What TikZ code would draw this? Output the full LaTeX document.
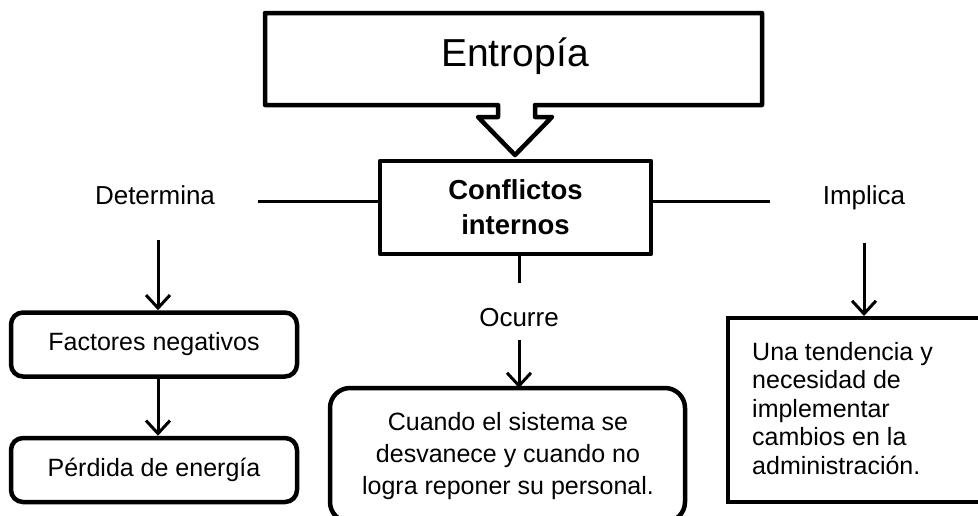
\documentclass[tikz,border=0pt]{standalone}
\usepackage{fontspec}
\setmainfont{Liberation Sans}
\usetikzlibrary{arrows.meta}
\begin{document}
\begin{tikzpicture}[x=1pt,y=-1pt,
  thickbox/.style={draw,line width=4.5pt,line join=round},
  roundbox/.style={draw,line width=4.5pt,rounded corners=12pt},
  link/.style={line width=3pt},
  arr/.style={line width=3pt,-{Straight Barb[length=13pt,width=24pt,line width=3pt]}},
  lbl/.style={font=\fontsize{26}{30}\selectfont,inner sep=0pt},
  body/.style={font=\fontsize{25}{32}\selectfont,inner sep=0pt,align=center}
]
\useasboundingbox (0,0) rectangle (978,515);
\clip (0,0) rectangle (978,515);
% Entropia callout
\draw[thickbox] (265,13) -- (762,13) -- (762,105) -- (535,105) -- (535,117) -- (552,117)
  -- (515,155) -- (478,117) -- (498,117) -- (498,105) -- (265,105) -- cycle;
\node[inner sep=0pt,font=\fontsize{39}{44}\selectfont] (entropia) at (515,56) {Entropía};
% central box
\node[thickbox,minimum width=271pt,minimum height=93pt,inner sep=0pt,align=center,
  font=\fontsize{27.5}{35}\selectfont\bfseries] (conf) at (515.5,207.5) {Conflictos\\internos};
% labels
\node[lbl] (det) at (155,195) {Determina};
\node[lbl] (imp) at (864,198) {Implica};
\node[lbl] (ocu) at (519,318) {Ocurre};
\coordinate (lend) at (258,201);
\coordinate (rend) at (770,201);
\coordinate (cend) at (519,283);
\draw[link] (conf.west |- lend) -- (lend);
\draw[link] (conf.east |- rend) -- (rend);
\draw[link] (conf.south -| cend) -- (cend);
% left column
\node[roundbox,minimum width=286pt,minimum height=64pt,inner sep=0pt,
  font=\fontsize{25}{30}\selectfont] (fac) at (154,344.5) {Factores negativos};
\node[roundbox,minimum width=286pt,minimum height=64pt,inner sep=0pt,
  font=\fontsize{25}{30}\selectfont] (per) at (154,470) {Pérdida de energía};
\coordinate (dtop) at (158,240);
\draw[arr] (dtop) -- (dtop |- fac.north);
\draw[arr] (fac.south -| dtop) -- (per.north -| dtop);
% center bottom
\draw[roundbox,rounded corners=20pt] (330,388) rectangle (685,522);
\node[body] (cua) at (508,456) {Cuando el sistema se\\desvanece y cuando no\\logra reponer su personal.};
\coordinate (otop) at (519,340);
\draw[arr] (otop) -- (519,388);
% right box
\draw[thickbox,line join=miter] (728,318) rectangle (990,502);
\node[inner sep=0pt,align=left,anchor=north west,font=\fontsize{25}{28.5}\selectfont] (una) at (752,342)
  {Una tendencia y\\necesidad de\\implementar\\cambios en la\\administración.};
\coordinate (itop) at (864,243);
\draw[arr] (itop) -- (864,316);
\end{tikzpicture}
\end{document}
